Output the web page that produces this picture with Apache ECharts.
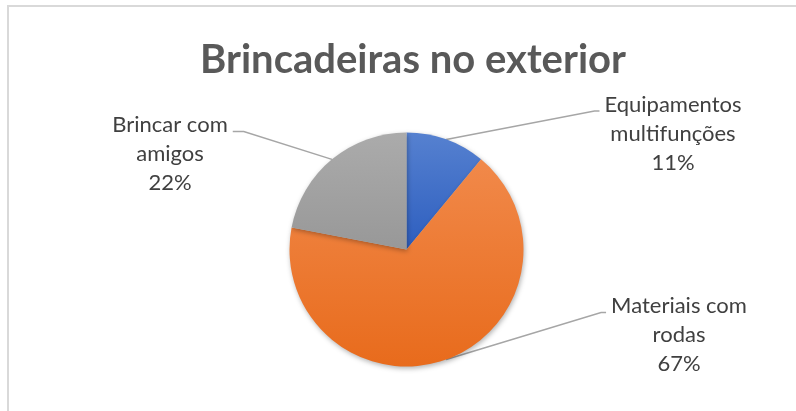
<!DOCTYPE html>
<html>
<head>
<meta charset="utf-8">
<script src="https://cdn.jsdelivr.net/npm/echarts@6/dist/echarts.min.js"></script>
<style>
html,body{margin:0;padding:0;background:#fff;}
#c{width:796px;height:411px;}
</style>
</head>
<body>
<div id="c"></div>
<script>
// ---- data ----
var titleText = 'Brincadeiras no exterior';
var categories = ['Equipamentos multifunções', 'Materiais com rodas', 'Brincar com amigos'];
var values = [11, 67, 22];

// ---- layout (label anchor centres, not data) ----
var labelCentres = [[673, 133.5], [679, 335], [170, 154]];
var sideRight = [true, true, false];

var colorStops = [
  ['#5681d0', '#2d5ebf'],
  ['#f1894a', '#e86b1c'],
  ['#ababab', '#989898']
];

function breakName(n) {
  var i = n.lastIndexOf(' ');
  return n.slice(0, i) + '\n' + n.slice(i + 1);
}

var LINE_H = 29;
var chart = echarts.init(document.getElementById('c'));
chart.setOption({
  backgroundColor: '#fff',
  animation: false,
  title: {
    text: titleText,
    left: 408, top: 35,
    textAlign: 'center',
    textStyle: { fontFamily: 'Lato', fontWeight: 'bold', fontSize: 40, color: '#595959' }
  },
  graphic: [{
    type: 'polyline',
    shape: { points: [[8, 411], [8, 6], [796, 6]] },
    style: { stroke: '#d9d9d9', lineWidth: 2, fill: null },
    silent: true
  }],
  series: [{
    type: 'pie',
    center: [406.5, 249.5],
    radius: 117,
    startAngle: 90,
    clockwise: true,
    avoidLabelOverlap: false,
    percentPrecision: 0,
    data: categories.map(function (c, i) {
      return {
        name: c,
        value: values[i],
        itemStyle: {
          color: new echarts.graphic.LinearGradient(0, 0, 0, 1, [
            { offset: 0, color: colorStops[i][0] },
            { offset: 1, color: colorStops[i][1] }
          ])
        }
      };
    }),
    itemStyle: {
      borderWidth: 0,
      shadowBlur: 5, shadowOffsetX: 1, shadowOffsetY: 2,
      shadowColor: 'rgba(0,0,0,0.3)'
    },
    label: {
      show: true,
      position: 'outside',
      formatter: function (p) { return breakName(p.name) + '\n' + p.percent + '%'; },
      fontFamily: 'Lato', fontSize: 22, lineHeight: LINE_H, color: '#404040',
      align: 'center'
    },
    labelLine: {
      show: true, length: 20, length2: 10, smooth: false,
      lineStyle: { color: '#a6a6a6', width: 1.5 }
    },
    labelLayout: function (p) {
      var i = p.dataIndex;
      var c = labelCentres[i];
      var w = p.labelRect.width, h = p.labelRect.height;
      var left = c[0] - w / 2, top = c[1] - h / 2;
      var ly = top + 21;
      var start = p.labelLinePoints ? p.labelLinePoints[0] : [c[0], c[1]];
      var pts;
      if (sideRight[i]) {
        pts = [start, [left - 10, ly], [left - 5, ly]];
      } else {
        pts = [start, [left + w + 16, ly], [left + w + 5, ly]];
      }
      return { x: c[0], y: c[1], align: 'center', verticalAlign: 'middle', labelLinePoints: pts };
    }
  }]
});
</script>
</body>
</html>
